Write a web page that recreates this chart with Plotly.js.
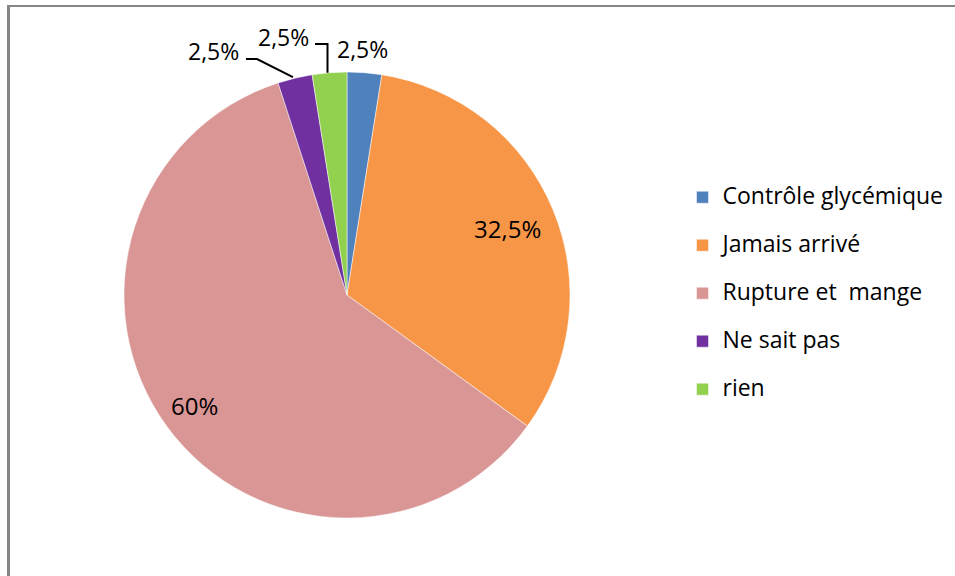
<!DOCTYPE html>
<html>
<head>
<meta charset="utf-8">
<script src="https://cdn.plot.ly/plotly-3.0.1.min.js"></script>
<style>html,body{margin:0;padding:0;background:#fff;}#chart{width:955px;height:576px;}</style>
</head>
<body>
<div id="chart"></div>
<script>
const categories = ['Contrôle glycémique', 'Jamais arrivé', 'Rupture et  mange', 'Ne sait pas', 'rien'];
const values = [2.5, 32.5, 60, 2.5, 2.5];
const colors = ['#4F81BD', '#F79646', '#D99694', '#7030A0', '#92D050'];

const W = 955, H = 576;
const px = x => x / W, py = y => 1 - y / H;
const cx = 347, cy = 295, R = 223;

function fmt(v) { return String(v).replace('.', ',') + '%'; }

// slice mid-angles (clockwise from 12 o'clock), from the data
const total = values.reduce((a, b) => a + b, 0);
let cum = 0;
const mids = values.map(v => { const m = (cum + v / 2) / total * 2 * Math.PI; cum += v; return m; });
const at = (i, r) => [cx + r * Math.sin(mids[i]), cy - r * Math.cos(mids[i])];

const font = '"Open Sans", sans-serif';
const baseAnn = {xref: 'paper', yref: 'paper', showarrow: false, xanchor: 'center', yanchor: 'middle'};

const eB = at(0, R), eP = at(3, R), eG = at(4, R);
const inO = at(1, 0.778 * R), inP = at(2, 0.843 * R);
const annotations = [
  {x: px(inO[0]), y: py(inO[1]), text: fmt(values[1]), font: {family: font, size: 24, color: '#000'}},
  {x: px(inP[0]), y: py(inP[1]), text: fmt(values[2]), font: {family: font, size: 24, color: '#000'}},
  {x: px(eB[0] - 1.5), y: py(eB[1] - 24), text: fmt(values[0]), font: {family: font, size: 23, color: '#000'}},
  {x: px(eG[0] - 46.5), y: py(eG[1] - 36), text: fmt(values[4]), font: {family: font, size: 23, color: '#000'}},
  {x: px(eP[0] - 81), y: py(eP[1] - 26.7), text: fmt(values[3]), font: {family: font, size: 23, color: '#000'}}
].map(a => Object.assign({}, baseAnn, a));

const lp = (pts) => 'M' + pts.map(p => px(p[0]) + ',' + py(p[1])).join(' L');
const shapes = [
  {type: 'line', xref: 'paper', yref: 'paper', x0: px(7), x1: px(955), y0: py(6), y1: py(6), line: {color: '#868686', width: 2}},
  {type: 'line', xref: 'paper', yref: 'paper', x0: px(8.5), x1: px(8.5), y0: py(5), y1: py(576), line: {color: '#868686', width: 3}},
  {type: 'path', xref: 'paper', yref: 'paper', path: lp([[eG[0] - 2, eG[1]], [eG[0] - 2, 44], [315, 44]]), line: {color: '#000', width: 2}},
  {type: 'path', xref: 'paper', yref: 'paper', path: lp([[eP[0] - 2, eP[1] - 1], [257, 59], [246, 59]]), line: {color: '#000', width: 2}}
];

const trace = {
  type: 'pie',
  labels: categories.map(c => '<span style="font-size:23px">' + c + '</span><br> '),
  values: values,
  textinfo: 'none',
  sort: false,
  direction: 'clockwise',
  rotation: 0,
  marker: {colors: colors, line: {color: '#fff', width: 0.5}},
  domain: {x: [px(124), px(570)], y: [py(518), py(72)]},
  hoverinfo: 'none'
};

const layout = {
  width: W, height: H,
  margin: {l: 0, r: 0, t: 0, b: 0},
  paper_bgcolor: '#fff',
  showlegend: true,
  legend: {x: px(682.5), y: py(179.5), xanchor: 'left', yanchor: 'top', valign: 'top', font: {family: font, size: 17.3, color: '#000'}, bgcolor: 'rgba(0,0,0,0)'},
  annotations: annotations,
  shapes: shapes
};

Plotly.newPlot('chart', [trace], layout, {displayModeBar: false, staticPlot: true});
</script>
</body>
</html>
